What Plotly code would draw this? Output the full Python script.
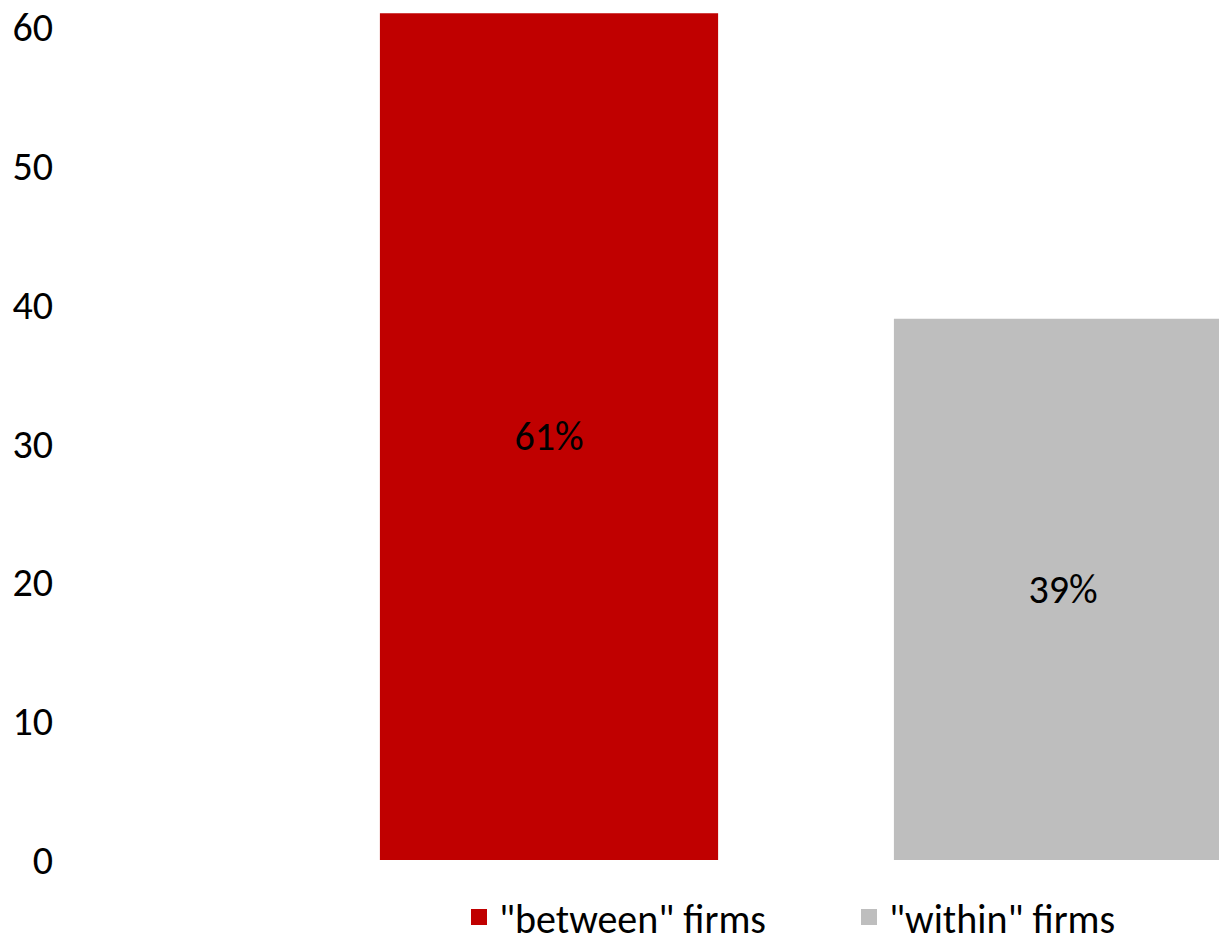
import plotly.graph_objects as go

# Decomposition of the change into firm-level components (percent)
series_names = ['"between" firms', '"within" firms']
shares = [61, 39]
bar_colors = ["#C00000", "#BEBEBE"]
positions = [0, 1]
y_ticks = [0, 10, 20, 30, 40, 50, 60]

FONT = "Carlito, Calibri, Lato, sans-serif"
FS = 40

fig = go.Figure()
for pos, name, val, col in zip(positions, series_names, shares, bar_colors):
    fig.add_trace(go.Bar(
        x=[pos], y=[val], name=name,
        marker=dict(color=col, line=dict(width=0)),
        width=0.658,
        text=[f"{val}%"], textposition="inside", insidetextanchor="middle",
        textfont=dict(color="black", size=FS, family=FONT),
        showlegend=False,
    ))
    # legend entry with a larger square swatch
    fig.add_trace(go.Scatter(
        x=[None], y=[None], mode="markers", name=name,
        marker=dict(symbol="square", size=22, color=col),
    ))

fig.update_layout(
    width=1219, height=944,
    margin=dict(l=66, r=0, t=0, b=84),
    paper_bgcolor="white", plot_bgcolor="white",
    barmode="overlay",
    font=dict(family=FONT, size=FS, color="black"),
    xaxis=dict(range=[-0.9397, 1.3035], showticklabels=False, showgrid=False,
               zeroline=False, showline=False, ticks=""),
    yaxis=dict(range=[0, 61.96], tickvals=y_ticks, showgrid=False,
               zeroline=False, showline=False, ticks="",
               ticklabelstandoff=12,
               tickfont=dict(size=FS, family=FONT)),
    legend=dict(orientation="h", xref="container", yref="container",
                x=459 / 1219, xanchor="left", y=27 / 944, yanchor="middle",
                font=dict(size=FS, family=FONT), itemsizing="trace",
                entrywidth=345, entrywidthmode="pixels",
                bgcolor="rgba(0,0,0,0)"),
)

fig.write_html("out.html")
